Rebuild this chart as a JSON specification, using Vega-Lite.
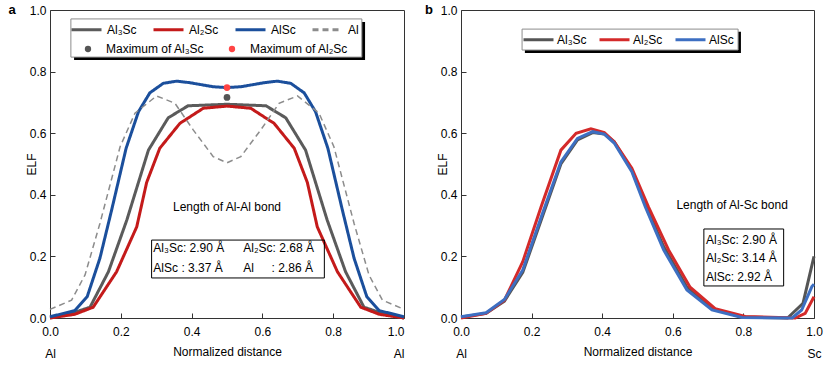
{
  "$schema": "https://vega.github.io/schema/vega-lite/v6.json",
  "padding": {"left": 8, "top": 3, "right": 2, "bottom": 2},
  "background": "#ffffff",
  "spacing": 13,
  "resolve": {
    "scale": {"color": "independent", "strokeDash": "independent", "fill": "independent"},
    "legend": {"color": "independent", "strokeDash": "independent", "fill": "independent"}
  },
  "config": {
    "font": "Liberation Sans",
    "view": {"stroke": "#333333", "strokeWidth": 1},
    "axis": {
      "labelFont": "Liberation Sans", "labelFontSize": 12, "labelColor": "#000000",
      "titleFont": "Liberation Sans", "titleFontSize": 12, "titleFontWeight": "normal", "titleColor": "#000000",
      "grid": false, "domain": false, "tickColor": "#333333", "tickSize": -5, "tickWidth": 1
    },
    "text": {"font": "Liberation Sans", "fontSize": 12, "color": "#000000"}
  },
  "datasets": {
    "leftd": [
      {"series": "Al₃Sc", "x": 0, "y": 0}, {"series": "Al₃Sc", "x": 0.066, "y": 0.017}, {"series": "Al₃Sc", "x": 0.113, "y": 0.035},
      {"series": "Al₃Sc", "x": 0.165, "y": 0.15}, {"series": "Al₃Sc", "x": 0.217, "y": 0.318}, {"series": "Al₃Sc", "x": 0.278, "y": 0.545},
      {"series": "Al₃Sc", "x": 0.334, "y": 0.65}, {"series": "Al₃Sc", "x": 0.39, "y": 0.689}, {"series": "Al₃Sc", "x": 0.5, "y": 0.694},
      {"series": "Al₃Sc", "x": 0.61, "y": 0.689}, {"series": "Al₃Sc", "x": 0.666, "y": 0.65}, {"series": "Al₃Sc", "x": 0.722, "y": 0.545},
      {"series": "Al₃Sc", "x": 0.783, "y": 0.318}, {"series": "Al₃Sc", "x": 0.835, "y": 0.15}, {"series": "Al₃Sc", "x": 0.887, "y": 0.035},
      {"series": "Al₃Sc", "x": 0.934, "y": 0.017}, {"series": "Al₃Sc", "x": 1, "y": 0},
      {"series": "Al₂Sc", "x": 0, "y": 0}, {"series": "Al₂Sc", "x": 0.07, "y": 0.012}, {"series": "Al₂Sc", "x": 0.122, "y": 0.035},
      {"series": "Al₂Sc", "x": 0.188, "y": 0.15}, {"series": "Al₂Sc", "x": 0.245, "y": 0.296}, {"series": "Al₂Sc", "x": 0.273, "y": 0.44},
      {"series": "Al₂Sc", "x": 0.31, "y": 0.551}, {"series": "Al₂Sc", "x": 0.367, "y": 0.632}, {"series": "Al₂Sc", "x": 0.433, "y": 0.681},
      {"series": "Al₂Sc", "x": 0.5, "y": 0.688}, {"series": "Al₂Sc", "x": 0.567, "y": 0.681}, {"series": "Al₂Sc", "x": 0.633, "y": 0.632},
      {"series": "Al₂Sc", "x": 0.69, "y": 0.551}, {"series": "Al₂Sc", "x": 0.727, "y": 0.44}, {"series": "Al₂Sc", "x": 0.755, "y": 0.296},
      {"series": "Al₂Sc", "x": 0.812, "y": 0.15}, {"series": "Al₂Sc", "x": 0.878, "y": 0.035}, {"series": "Al₂Sc", "x": 0.93, "y": 0.012},
      {"series": "Al₂Sc", "x": 1, "y": 0},
      {"series": "AlSc", "x": 0, "y": 0.004}, {"series": "AlSc", "x": 0.07, "y": 0.024}, {"series": "AlSc", "x": 0.105, "y": 0.069},
      {"series": "AlSc", "x": 0.141, "y": 0.194}, {"series": "AlSc", "x": 0.174, "y": 0.35}, {"series": "AlSc", "x": 0.215, "y": 0.551},
      {"series": "AlSc", "x": 0.25, "y": 0.67}, {"series": "AlSc", "x": 0.282, "y": 0.731}, {"series": "AlSc", "x": 0.32, "y": 0.762},
      {"series": "AlSc", "x": 0.358, "y": 0.769}, {"series": "AlSc", "x": 0.395, "y": 0.764}, {"series": "AlSc", "x": 0.46, "y": 0.751},
      {"series": "AlSc", "x": 0.5, "y": 0.748}, {"series": "AlSc", "x": 0.54, "y": 0.751}, {"series": "AlSc", "x": 0.605, "y": 0.764},
      {"series": "AlSc", "x": 0.642, "y": 0.769}, {"series": "AlSc", "x": 0.68, "y": 0.762}, {"series": "AlSc", "x": 0.718, "y": 0.731},
      {"series": "AlSc", "x": 0.75, "y": 0.67}, {"series": "AlSc", "x": 0.785, "y": 0.551}, {"series": "AlSc", "x": 0.826, "y": 0.35},
      {"series": "AlSc", "x": 0.859, "y": 0.194}, {"series": "AlSc", "x": 0.895, "y": 0.069}, {"series": "AlSc", "x": 0.93, "y": 0.024},
      {"series": "AlSc", "x": 1, "y": 0.004},
      {"series": "Al", "x": 0, "y": 0.028}, {"series": "Al", "x": 0.061, "y": 0.058}, {"series": "Al", "x": 0.099, "y": 0.14},
      {"series": "Al", "x": 0.141, "y": 0.307}, {"series": "Al", "x": 0.198, "y": 0.556}, {"series": "Al", "x": 0.24, "y": 0.665},
      {"series": "Al", "x": 0.301, "y": 0.721}, {"series": "Al", "x": 0.353, "y": 0.697}, {"series": "Al", "x": 0.405, "y": 0.61},
      {"series": "Al", "x": 0.461, "y": 0.524}, {"series": "Al", "x": 0.5, "y": 0.504}, {"series": "Al", "x": 0.539, "y": 0.524},
      {"series": "Al", "x": 0.595, "y": 0.61}, {"series": "Al", "x": 0.647, "y": 0.697}, {"series": "Al", "x": 0.699, "y": 0.721},
      {"series": "Al", "x": 0.76, "y": 0.665}, {"series": "Al", "x": 0.802, "y": 0.556}, {"series": "Al", "x": 0.859, "y": 0.307},
      {"series": "Al", "x": 0.901, "y": 0.14}, {"series": "Al", "x": 0.939, "y": 0.058}, {"series": "Al", "x": 1, "y": 0.028}
    ],
    "maxima": [
      {"series": "Maximum of Al₃Sc", "x": 0.5, "y": 0.716},
      {"series": "Maximum of Al₂Sc", "x": 0.5, "y": 0.748}
    ],
    "rightd": [
      {"series": "Al₃Sc", "x": 0, "y": 0.003}, {"series": "Al₃Sc", "x": 0.071, "y": 0.015}, {"series": "Al₃Sc", "x": 0.123, "y": 0.055},
      {"series": "Al₃Sc", "x": 0.175, "y": 0.148}, {"series": "Al₃Sc", "x": 0.231, "y": 0.33}, {"series": "Al₃Sc", "x": 0.283, "y": 0.5},
      {"series": "Al₃Sc", "x": 0.33, "y": 0.578}, {"series": "Al₃Sc", "x": 0.373, "y": 0.602}, {"series": "Al₃Sc", "x": 0.406, "y": 0.597},
      {"series": "Al₃Sc", "x": 0.434, "y": 0.572}, {"series": "Al₃Sc", "x": 0.484, "y": 0.48}, {"series": "Al₃Sc", "x": 0.522, "y": 0.37},
      {"series": "Al₃Sc", "x": 0.574, "y": 0.232}, {"series": "Al₃Sc", "x": 0.64, "y": 0.1}, {"series": "Al₃Sc", "x": 0.711, "y": 0.03},
      {"series": "Al₃Sc", "x": 0.796, "y": 0.003}, {"series": "Al₃Sc", "x": 0.925, "y": 0}, {"series": "Al₃Sc", "x": 0.969, "y": 0.048},
      {"series": "Al₃Sc", "x": 1, "y": 0.2},
      {"series": "Al₂Sc", "x": 0, "y": 0}, {"series": "Al₂Sc", "x": 0.071, "y": 0.015}, {"series": "Al₂Sc", "x": 0.123, "y": 0.058},
      {"series": "Al₂Sc", "x": 0.175, "y": 0.183}, {"series": "Al₂Sc", "x": 0.227, "y": 0.361}, {"series": "Al₂Sc", "x": 0.283, "y": 0.545},
      {"series": "Al₂Sc", "x": 0.326, "y": 0.6}, {"series": "Al₂Sc", "x": 0.368, "y": 0.614}, {"series": "Al₂Sc", "x": 0.406, "y": 0.602},
      {"series": "Al₂Sc", "x": 0.434, "y": 0.572}, {"series": "Al₂Sc", "x": 0.484, "y": 0.486}, {"series": "Al₂Sc", "x": 0.531, "y": 0.361},
      {"series": "Al₂Sc", "x": 0.588, "y": 0.221}, {"series": "Al₂Sc", "x": 0.649, "y": 0.1}, {"series": "Al₂Sc", "x": 0.72, "y": 0.03},
      {"series": "Al₂Sc", "x": 0.805, "y": 0.005}, {"series": "Al₂Sc", "x": 0.947, "y": 0}, {"series": "Al₂Sc", "x": 0.975, "y": 0.015},
      {"series": "Al₂Sc", "x": 1, "y": 0.069},
      {"series": "AlSc", "x": 0, "y": 0.004}, {"series": "AlSc", "x": 0.071, "y": 0.017}, {"series": "AlSc", "x": 0.123, "y": 0.06},
      {"series": "AlSc", "x": 0.175, "y": 0.156}, {"series": "AlSc", "x": 0.231, "y": 0.34}, {"series": "AlSc", "x": 0.283, "y": 0.507},
      {"series": "AlSc", "x": 0.33, "y": 0.583}, {"series": "AlSc", "x": 0.373, "y": 0.605}, {"series": "AlSc", "x": 0.406, "y": 0.597},
      {"series": "AlSc", "x": 0.434, "y": 0.568}, {"series": "AlSc", "x": 0.484, "y": 0.475}, {"series": "AlSc", "x": 0.522, "y": 0.361},
      {"series": "AlSc", "x": 0.574, "y": 0.221}, {"series": "AlSc", "x": 0.64, "y": 0.091}, {"series": "AlSc", "x": 0.711, "y": 0.026},
      {"series": "AlSc", "x": 0.796, "y": 0.002}, {"series": "AlSc", "x": 0.938, "y": 0}, {"series": "AlSc", "x": 0.965, "y": 0.026},
      {"series": "AlSc", "x": 0.994, "y": 0.102}, {"series": "AlSc", "x": 1, "y": 0.11}
    ]
  },
  "hconcat": [
    {
      "width": 354,
      "height": 308,
      "layer": [
        {
          "data": {"name": "leftd"},
          "transform": [{"filter": "datum.series !== 'Al'"}],
          "mark": {"type": "line", "strokeWidth": 3},
          "encoding": {
            "x": {
              "field": "x", "type": "quantitative", "scale": {"domain": [0, 1]},
              "axis": {
                "title": "Normalized distance",
                "values": [0, 0.1, 0.2, 0.3, 0.4, 0.5, 0.6, 0.7, 0.8, 0.9, 1],
                "labelExpr": "round(datum.value*10)%2!==0 ? '' : datum.value===0 ? ['0.0','Al'] : datum.value===1 ? ['1.0','Al'] : format(datum.value,'.1f')",
                "labelLineHeight": 22,
                "labelAlign": {"condition": {"test": "datum.value === 1", "value": "right"}, "value": "center"},
                "labelPadding": 13, "labelOverlap": false, "labelFlush": false,
                "titleY": 33, "titleBaseline": "middle"
              }
            },
            "y": {
              "field": "y", "type": "quantitative", "scale": {"domain": [0, 1]},
              "axis": {
                "title": "ELF",
                "values": [0, 0.1, 0.2, 0.3, 0.4, 0.5, 0.6, 0.7, 0.8, 0.9, 1],
                "labelExpr": "round(datum.value*10)%2===0 ? format(datum.value,'.1f') : ''",
                "labelPadding": 9, "labelOverlap": false,
                "titleX": -19, "titleBaseline": "middle"
              }
            },
            "color": {
              "field": "series", "type": "nominal",
              "scale": {"domain": ["Al₃Sc", "Al₂Sc", "AlSc", "Al"], "range": ["#5b5b5b", "#c41a1a", "#1b4f9c", "#8c8c8c"]},
              "legend": {
                "orient": "none", "legendX": 20, "legendY": 3, "title": null, "columns": 4,
                "symbolType": "stroke", "symbolSize": 900, "symbolStrokeWidth": 3,
                "labelFont": "Liberation Sans", "labelFontSize": 12, "labelColor": "#000000", "labelOffset": 4, "labelLimit": 300,
                "columnPadding": 10, "padding": 0, "zindex": 1
              }
            },
            "strokeDash": {
              "field": "series", "type": "nominal",
              "scale": {"domain": ["Al₃Sc", "Al₂Sc", "AlSc", "Al"], "range": [[1, 0], [1, 0], [1, 0], [6, 4]]}
            }
          }
        },
        {
          "data": {"name": "leftd"},
          "transform": [{"filter": "datum.series === 'Al'"}],
          "mark": {"type": "line", "strokeWidth": 1.5},
          "encoding": {
            "x": {"field": "x", "type": "quantitative", "scale": {"domain": [0, 1]}},
            "y": {"field": "y", "type": "quantitative", "scale": {"domain": [0, 1]}},
            "color": {
              "field": "series", "type": "nominal",
              "scale": {"domain": ["Al₃Sc", "Al₂Sc", "AlSc", "Al"], "range": ["#5b5b5b", "#c41a1a", "#1b4f9c", "#8c8c8c"]}
            },
            "strokeDash": {
              "field": "series", "type": "nominal",
              "scale": {"domain": ["Al₃Sc", "Al₂Sc", "AlSc", "Al"], "range": [[1, 0], [1, 0], [1, 0], [6, 4]]}
            }
          }
        },
        {
          "data": {"name": "maxima"},
          "mark": {"type": "point", "filled": true, "size": 45, "opacity": 1, "strokeWidth": 0},
          "encoding": {
            "x": {"field": "x", "type": "quantitative", "scale": {"domain": [0, 1]}},
            "y": {"field": "y", "type": "quantitative", "scale": {"domain": [0, 1]}},
            "fill": {
              "field": "series", "type": "nominal",
              "scale": {"domain": ["Maximum of Al₃Sc", "Maximum of Al₂Sc"], "range": ["#555555", "#ff4444"]},
              "legend": {
                "orient": "none", "legendX": 32, "legendY": 33, "title": null, "columns": 2,
                "symbolType": "circle", "symbolSize": 40, "symbolStrokeWidth": 0, "symbolOpacity": 1,
                "labelFont": "Liberation Sans", "labelFontSize": 12, "labelColor": "#000000", "labelOffset": 12, "labelLimit": 300,
                "columnPadding": 21, "padding": 0, "zindex": 1
              }
            }
          }
        },
        {
          "data": {"values": [{}]},
          "mark": {"type": "rect", "color": "#000000"},
          "encoding": {
            "x": {"datum": 0.068, "type": "quantitative", "scale": {"domain": [0, 1]}},
            "x2": {"datum": 0.89},
            "y": {"datum": 0.961, "type": "quantitative", "scale": {"domain": [0, 1]}},
            "y2": {"datum": 0.838}
          }
        },
        {
          "data": {"values": [{}]},
          "mark": {"type": "rect", "fill": "#ffffff", "stroke": "#8c8c8c", "strokeWidth": 1},
          "encoding": {
            "x": {"datum": 0.059, "type": "quantitative", "scale": {"domain": [0, 1]}},
            "x2": {"datum": 0.881},
            "y": {"datum": 0.971, "type": "quantitative", "scale": {"domain": [0, 1]}},
            "y2": {"datum": 0.847}
          }
        },
        {
          "data": {"values": [{}]},
          "mark": {"type": "rect", "fillOpacity": 0, "stroke": "#000000", "strokeWidth": 1},
          "encoding": {
            "x": {"datum": 0.287, "type": "quantitative", "scale": {"domain": [0, 1]}},
            "x2": {"datum": 0.775},
            "y": {"datum": 0.253, "type": "quantitative", "scale": {"domain": [0, 1]}},
            "y2": {"datum": 0.13}
          }
        },
        {
          "data": {"values": [{}]},
          "mark": {"type": "text", "align": "center", "baseline": "middle", "fontSize": 13, "fontWeight": "bold"},
          "encoding": {
            "x": {"datum": -0.107, "type": "quantitative", "scale": {"domain": [0, 1]}},
            "y": {"datum": 1, "type": "quantitative", "scale": {"domain": [0, 1]}},
            "text": {"value": "a"}
          }
        },
        {
          "data": {"values": [{}]},
          "mark": {"type": "text", "align": "center", "baseline": "middle", "fontSize": 12},
          "encoding": {
            "x": {"datum": 0.5, "type": "quantitative", "scale": {"domain": [0, 1]}},
            "y": {"datum": 0.362, "type": "quantitative", "scale": {"domain": [0, 1]}},
            "text": {"value": "Length of Al-Al bond"}
          }
        },
        {
          "data": {"values": [{}]},
          "mark": {"type": "text", "align": "left", "baseline": "middle", "fontSize": 12, "lineHeight": 20},
          "encoding": {
            "x": {"datum": 0.292, "type": "quantitative", "scale": {"domain": [0, 1]}},
            "y": {"datum": 0.227, "type": "quantitative", "scale": {"domain": [0, 1]}},
            "text": {"value": ["Al₃Sc: 2.90 Å", "AlSc : 3.37 Å"]}
          }
        },
        {
          "data": {"values": [{}]},
          "mark": {"type": "text", "align": "left", "baseline": "middle", "fontSize": 12, "lineHeight": 20},
          "encoding": {
            "x": {"datum": 0.546, "type": "quantitative", "scale": {"domain": [0, 1]}},
            "y": {"datum": 0.227, "type": "quantitative", "scale": {"domain": [0, 1]}},
            "text": {"value": ["Al₂Sc: 2.68 Å", "Al"]}
          }
        },
        {
          "data": {"values": [{}]},
          "mark": {"type": "text", "align": "left", "baseline": "middle", "fontSize": 12},
          "encoding": {
            "x": {"datum": 0.626, "type": "quantitative", "scale": {"domain": [0, 1]}},
            "y": {"datum": 0.162, "type": "quantitative", "scale": {"domain": [0, 1]}},
            "text": {"value": ": 2.86 Å"}
          }
        }
      ]
    },
    {
      "width": 353,
      "height": 308,
      "layer": [
        {
          "data": {"name": "rightd"},
          "mark": {"type": "line", "strokeWidth": 3},
          "encoding": {
            "x": {
              "field": "x", "type": "quantitative", "scale": {"domain": [0, 1]},
              "axis": {
                "title": "Normalized distance",
                "values": [0, 0.1, 0.2, 0.3, 0.4, 0.5, 0.6, 0.7, 0.8, 0.9, 1],
                "labelExpr": "round(datum.value*10)%2!==0 ? '' : datum.value===0 ? ['0.0','Al'] : datum.value===1 ? ['1.0','Sc'] : format(datum.value,'.1f')",
                "labelLineHeight": 22,
                "labelPadding": 13, "labelOverlap": false, "labelFlush": false,
                "titleY": 33, "titleBaseline": "middle"
              }
            },
            "y": {
              "field": "y", "type": "quantitative", "scale": {"domain": [0, 1]},
              "axis": {
                "title": "ELF",
                "values": [0, 0.1, 0.2, 0.3, 0.4, 0.5, 0.6, 0.7, 0.8, 0.9, 1],
                "labelExpr": "round(datum.value*10)%2===0 ? format(datum.value,'.1f') : ''",
                "labelPadding": 9, "labelOverlap": false,
                "titleX": -19, "titleBaseline": "middle"
              }
            },
            "color": {
              "field": "series", "type": "nominal",
              "scale": {"domain": ["Al₃Sc", "Al₂Sc", "AlSc"], "range": ["#555555", "#d42a2a", "#3d6fc2"]},
              "legend": {
                "orient": "none", "legendX": 61, "legendY": 13, "title": null, "columns": 3,
                "symbolType": "stroke", "symbolSize": 900, "symbolStrokeWidth": 3,
                "labelFont": "Liberation Sans", "labelFontSize": 12, "labelColor": "#000000", "labelOffset": 2, "labelLimit": 300,
                "columnPadding": 6, "padding": 0, "zindex": 1
              }
            }
          }
        },
        {
          "data": {"values": [{}]},
          "mark": {"type": "rect", "color": "#000000"},
          "encoding": {
            "x": {"datum": 0.181, "type": "quantitative", "scale": {"domain": [0, 1]}},
            "x2": {"datum": 0.793},
            "y": {"datum": 0.929, "type": "quantitative", "scale": {"domain": [0, 1]}},
            "y2": {"datum": 0.86}
          }
        },
        {
          "data": {"values": [{}]},
          "mark": {"type": "rect", "fill": "#ffffff", "stroke": "#8c8c8c", "strokeWidth": 1},
          "encoding": {
            "x": {"datum": 0.173, "type": "quantitative", "scale": {"domain": [0, 1]}},
            "x2": {"datum": 0.785},
            "y": {"datum": 0.938, "type": "quantitative", "scale": {"domain": [0, 1]}},
            "y2": {"datum": 0.87}
          }
        },
        {
          "data": {"values": [{}]},
          "mark": {"type": "rect", "fillOpacity": 0, "stroke": "#000000", "strokeWidth": 1},
          "encoding": {
            "x": {"datum": 0.688, "type": "quantitative", "scale": {"domain": [0, 1]}},
            "x2": {"datum": 0.914},
            "y": {"datum": 0.289, "type": "quantitative", "scale": {"domain": [0, 1]}},
            "y2": {"datum": 0.104}
          }
        },
        {
          "data": {"values": [{}]},
          "mark": {"type": "text", "align": "center", "baseline": "middle", "fontSize": 13, "fontWeight": "bold"},
          "encoding": {
            "x": {"datum": -0.091, "type": "quantitative", "scale": {"domain": [0, 1]}},
            "y": {"datum": 1, "type": "quantitative", "scale": {"domain": [0, 1]}},
            "text": {"value": "b"}
          }
        },
        {
          "data": {"values": [{}]},
          "mark": {"type": "text", "align": "center", "baseline": "middle", "fontSize": 12},
          "encoding": {
            "x": {"datum": 0.768, "type": "quantitative", "scale": {"domain": [0, 1]}},
            "y": {"datum": 0.367, "type": "quantitative", "scale": {"domain": [0, 1]}},
            "text": {"value": "Length of Al-Sc bond"}
          }
        },
        {
          "data": {"values": [{}]},
          "mark": {"type": "text", "align": "left", "baseline": "middle", "fontSize": 12, "lineHeight": 18.3},
          "encoding": {
            "x": {"datum": 0.694, "type": "quantitative", "scale": {"domain": [0, 1]}},
            "y": {"datum": 0.253, "type": "quantitative", "scale": {"domain": [0, 1]}},
            "text": {"value": ["Al₃Sc: 2.90 Å", "Al₂Sc: 3.14 Å", "AlSc:  2.92 Å"]}
          }
        }
      ]
    }
  ]
}
